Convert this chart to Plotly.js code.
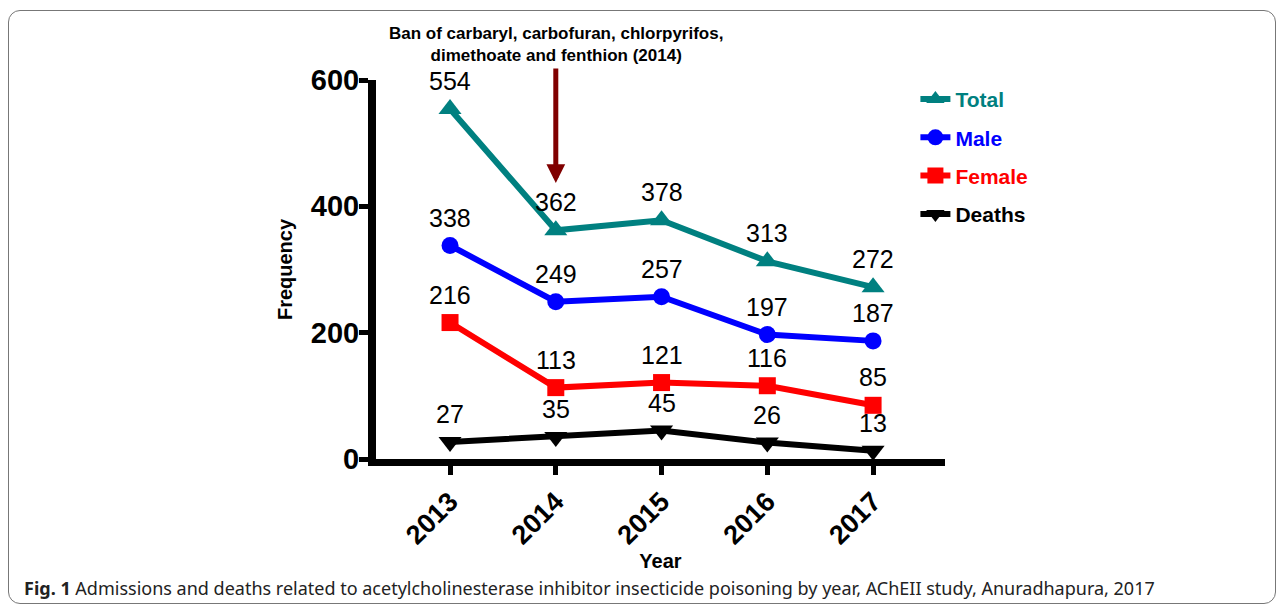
<!DOCTYPE html>
<html>
<head>
<meta charset="utf-8">
<script src="https://cdn.plot.ly/plotly-3.0.1.min.js"></script>
<style>
  html, body { margin: 0; padding: 0; background: #ffffff; }
  #wrap { position: relative; width: 1281px; height: 609px; overflow: hidden; }
  #frame { position: absolute; left: 8px; top: 10px; width: 1268px; height: 594px;
           border: 1.5px solid #777; border-radius: 12px; box-sizing: border-box; }
  #chart { position: absolute; left: 0; top: 0; width: 1281px; height: 609px; }
</style>
</head>
<body>
<div id="wrap">
  <div id="frame"></div>
  <div id="chart"></div>
</div>
<script>
const years = ['2013', '2014', '2015', '2016', '2017'];
const totalVals = [554, 362, 378, 313, 272];
const maleVals = [338, 249, 257, 197, 187];
const femaleVals = [216, 113, 121, 116, 85];
const deathVals = [27, 35, 45, 26, 13];
const yTicks = [0, 200, 400, 600];
const banYearIndex = 1;

const series = [
  { name: 'Total', vals: totalVals, color: '#008080', symbol: 'triangle-up', size: 20 },
  { name: 'Male', vals: maleVals, color: '#0000ff', symbol: 'circle', size: 17 },
  { name: 'Female', vals: femaleVals, color: '#ff0000', symbol: 'square', size: 17 },
  { name: 'Deaths', vals: deathVals, color: '#000000', symbol: 'triangle-down', size: 20 }
];

const traces = series.map((s, k) => ({
  type: 'scatter',
  mode: 'lines+markers',
  x: years,
  y: s.vals,
  name: '<span style="color:' + s.color + '"><b>' + s.name + '</b></span>',
  legendgroup: 'g' + k,
  line: { color: s.color, width: 6 },
  marker: { color: s.color, symbol: s.symbol, size: s.size },
  cliponaxis: false
}));

const annotations = [];
series.forEach(s => {
  s.vals.forEach((v, i) => {
    annotations.push({
      x: i, y: v, xref: 'x', yref: 'y',
      text: String(v), showarrow: false, yshift: 28,
      font: { family: 'Arial, Liberation Sans, sans-serif', size: 25, color: '#000' }
    });
  });
});

// Ban arrow
annotations.push({
  x: banYearIndex, y: 437, xref: 'x', yref: 'y',
  text: '', showarrow: true, ax: 0, ay: -116,
  arrowcolor: '#800000', arrowwidth: 5, arrowhead: 2, arrowsize: 0.75
});
annotations.push({
  x: banYearIndex, y: 1.033, xref: 'x', yref: 'paper',
  yanchor: 'bottom',
  text: '<b>Ban of carbaryl, carbofuran, chlorpyrifos,<br>dimethoate and fenthion (2014)</b>',
  showarrow: false, align: 'center',
  font: { family: 'Arial, Liberation Sans, sans-serif', size: 17, color: '#000' }
});
// Caption
annotations.push({
  x: -0.622, y: -0.3405, xref: 'paper', yref: 'paper', xanchor: 'left', yanchor: 'middle',
  text: '<b>Fig. 1</b> Admissions and deaths related to acetylcholinesterase inhibitor insecticide poisoning by year, AChEII study, Anuradhapura, 2017',
  showarrow: false,
  font: { family: 'Noto Sans, sans-serif', size: 18, color: '#222' }
});

const layout = {
  width: 1281, height: 609,
  margin: { l: 376, r: 336, t: 80, b: 150 },
  paper_bgcolor: 'rgba(0,0,0,0)',
  plot_bgcolor: 'rgba(0,0,0,0)',
  showlegend: true,
  legend: {
    x: 0.948, y: 1.003, xanchor: 'left', yanchor: 'top',
    font: { family: 'Arial, Liberation Sans, sans-serif', size: 21, color: '#000' },
    bgcolor: 'rgba(0,0,0,0)', tracegroupgap: 8
  },
  xaxis: {
    type: 'category',
    range: [-0.7, 4.68],
    showline: true, linecolor: '#000', linewidth: 7,
    ticks: 'outside', ticklen: 9, tickwidth: 5, tickcolor: '#000',
    tickangle: -45,
    tickfont: { family: 'Arial, Liberation Sans, sans-serif', size: 27, color: '#000', weight: 'bold' },
    showgrid: false, zeroline: false,
    title: { text: '<b>Year</b>', standoff: 3,
             font: { family: 'Arial, Liberation Sans, sans-serif', size: 20, color: '#000' } }
  },
  yaxis: {
    range: [0, 600],
    tickvals: yTicks,
    showline: true, linecolor: '#000', linewidth: 8,
    ticks: 'outside', ticklen: 9, tickwidth: 5, tickcolor: '#000',
    ticklabelstandoff: -6,
    tickfont: { family: 'Arial, Liberation Sans, sans-serif', size: 29, color: '#000', weight: 'bold' },
    showgrid: false, zeroline: false,
    title: { text: '<b>Frequency</b>', standoff: 16,
             font: { family: 'Arial, Liberation Sans, sans-serif', size: 20, color: '#000' } }
  },
  annotations: annotations
};

Plotly.newPlot('chart', traces, layout, { displayModeBar: false, staticPlot: true });
</script>
</body>
</html>
